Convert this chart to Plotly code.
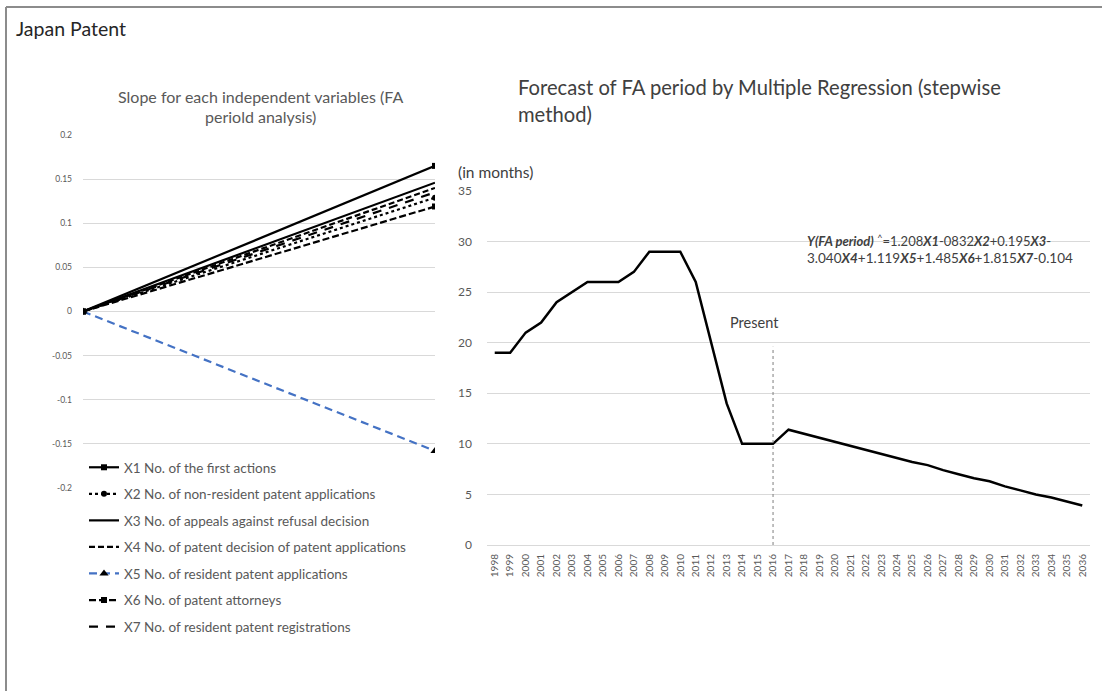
import plotly.graph_objects as go

W, H = 1102, 691

# ---------------- data ----------------
slope_points = [0, 1]
slope_names = [
    "X1 No. of the first actions",
    "X2 No. of non-resident patent applications",
    "X3 No. of appeals against refusal decision",
    "X4 No. of patent decision of patent applications",
    "X5 No. of resident patent applications",
    "X6 No. of patent attorneys",
    "X7 No. of resident patent registrations",
]
slope_end = [0.165, 0.129, 0.146, 0.140, -0.158, 0.119, 0.135]
slope_ticks = [0.2, 0.15, 0.1, 0.05, 0, -0.05, -0.1, -0.15, -0.2]
slope_ticklabels = ["0.2", "0.15", "0.1", "0.05", "0", "-0.05", "-0.1", "-0.15", "-0.2"]

years = [str(y) for y in range(1998, 2037)]
fa_period = [19, 19, 21, 22, 24, 25, 26, 26, 26, 27, 29, 29, 29, 26, 20, 14, 10, 10, 10,
             11.4, 11.0, 10.6, 10.2, 9.8, 9.4, 9.0, 8.6, 8.2, 7.9, 7.4, 7.0, 6.6, 6.3,
             5.8, 5.4, 5.0, 4.7, 4.3, 3.9]
present_year = "2016"
present_top = 19.6
fa_ticks = [0, 5, 10, 15, 20, 25, 30, 35]

# ---------------- styles ----------------
BLUE = "#4472c4"
styles = [
    dict(color="black", dash="solid", symbol="square", msize=6, mcolor="black"),
    dict(color="black", dash="dot", symbol="circle", msize=6, mcolor="black"),
    dict(color="black", dash="solid", symbol=None, msize=0, mcolor="black"),
    dict(color="black", dash="6px,3px", symbol=None, msize=0, mcolor="black"),
    dict(color=BLUE, dash="8px,5px", symbol="triangle-up", msize=8, mcolor="black"),
    dict(color="black", dash="7px,3px", symbol="square", msize=6, mcolor="black"),
    dict(color="black", dash="9px,8px", symbol=None, msize=0, mcolor="black"),
]

FONT = "Lato, 'Open Sans', sans-serif"
GRAY = "#595959"
DARK = "#404040"

def px_x(p):
    return p / W

def px_y(p):
    return 1 - p / H

fig = go.Figure()

for i, (name, end) in enumerate(zip(slope_names, slope_end)):
    s = styles[i]
    mode = "lines+markers" if s["symbol"] else "lines"
    fig.add_trace(go.Scatter(
        x=slope_points, y=[0, end], name=name, mode=mode,
        line=dict(color=s["color"], width=2.2, dash=s["dash"]),
        marker=dict(symbol=s["symbol"] or "circle", size=s["msize"], color=s["mcolor"]),
        xaxis="x", yaxis="y", legendgroup=f"g{i}", hoverinfo="skip",
    ))

fig.add_trace(go.Scatter(
    x=years, y=fa_period, mode="lines", showlegend=False,
    line=dict(color="black", width=2.5), xaxis="x2", yaxis="y2", hoverinfo="skip",
))

fig.update_layout(
    width=W, height=H, margin=dict(l=0, r=0, t=0, b=0, autoexpand=False),
    autosize=False,
    paper_bgcolor="white", plot_bgcolor="white",
    font=dict(family=FONT, color=GRAY),
    xaxis=dict(domain=[px_x(83), px_x(435)], range=[0, 1], showgrid=False, zeroline=False,
               showticklabels=False, ticks="", anchor="y", automargin=False),
    yaxis=dict(domain=[px_y(488), px_y(135)], range=[-0.2, 0.2], tickvals=slope_ticks,
               ticktext=slope_ticklabels, showgrid=True, gridcolor="#d9d9d9", gridwidth=1,
               zeroline=False, tickfont=dict(size=8.5, color=GRAY), ticks="",
               ticklabelstandoff=10, anchor="x", automargin=False),
    xaxis2=dict(domain=[px_x(487), px_x(1090)], type="category", range=[-0.5, len(years) - 0.5],
                tickangle=-90, tickfont=dict(size=10, color=GRAY), showgrid=False,
                zeroline=False, showline=True, linecolor="#d9d9d9", ticks="",
                ticklabelstandoff=4, anchor="y2", automargin=False),
    yaxis2=dict(domain=[px_y(545), px_y(191)], range=[0, 35], tickvals=fa_ticks,
                showgrid=True, gridcolor="#d9d9d9", gridwidth=1, zeroline=False,
                tickfont=dict(size=12, color=GRAY), ticks="", ticklabelstandoff=14,
                anchor="x2", automargin=False),
    legend=dict(x=px_x(84), y=px_y(452), xanchor="left", yanchor="top",
                font=dict(size=13.5, color=GRAY), tracegroupgap=6, itemwidth=30,
                bgcolor="rgba(0,0,0,0)", traceorder="grouped"),
    showlegend=True,
)

present_idx = years.index(present_year)

# Present marker line
fig.add_shape(type="line", xref="x2", yref="y2", x0=present_idx, x1=present_idx,
              y0=0, y1=present_top, line=dict(color="#7f7f7f", width=1, dash="dot"))

ann = []
ann.append(dict(text="Japan Patent", x=px_x(14), y=px_y(28), xref="paper", yref="paper",
                xanchor="left", yanchor="middle", showarrow=False,
                font=dict(size=19.5, color="#262626")))
ann.append(dict(text="Slope for each independent variables (FA", x=px_x(260), y=px_y(97),
                xref="paper", yref="paper", xanchor="center", yanchor="middle",
                showarrow=False, font=dict(size=16, color=GRAY)))
ann.append(dict(text="periold analysis)", x=px_x(260), y=px_y(117),
                xref="paper", yref="paper", xanchor="center", yanchor="middle",
                showarrow=False, font=dict(size=16, color=GRAY)))
ann.append(dict(text="Forecast of FA period by Multiple Regression (stepwise", x=px_x(516),
                y=px_y(87), xref="paper", yref="paper", xanchor="left", yanchor="middle",
                showarrow=False, font=dict(size=20.2, color=DARK)))
ann.append(dict(text="method)", x=px_x(516), y=px_y(114), xref="paper", yref="paper",
                xanchor="left", yanchor="middle", showarrow=False,
                font=dict(size=20.2, color=DARK)))
ann.append(dict(text="(in months)", x=px_x(456), y=px_y(172), xref="paper", yref="paper",
                xanchor="left", yanchor="middle", showarrow=False,
                font=dict(size=15.5, color=DARK)))
ann.append(dict(text="<b><i>Y(FA period)</i></b> <sup>^</sup>=1.208<b><i>X1</i></b>-0832<b><i>X2</i></b>+0.195<b><i>X3</i></b>-",
                x=px_x(805), y=px_y(240), xref="paper", yref="paper", xanchor="left",
                yanchor="middle", showarrow=False, font=dict(size=13, color=DARK)))
ann.append(dict(text="3.040<b><i>X4</i></b>+1.119<b><i>X5</i></b>+1.485<b><i>X6</i></b>+1.815<b><i>X7</i></b>-0.104",
                x=px_x(805), y=px_y(258), xref="paper", yref="paper", xanchor="left",
                yanchor="middle", showarrow=False, font=dict(size=13.5, color=DARK)))
ann.append(dict(text="Present", x=present_idx, y=22, xref="x2", yref="y2", xshift=-19,
                xanchor="center", yanchor="middle", showarrow=False,
                font=dict(size=14.5, color=DARK)))
fig.update_layout(annotations=ann)

# outer frame (left and top edges visible)
fig.add_shape(type="line", xref="paper", yref="paper", x0=px_x(6), x1=px_x(6), y0=0, y1=px_y(7),
              line=dict(color="#8c8c8c", width=2))
fig.add_shape(type="line", xref="paper", yref="paper", x0=px_x(6), x1=1, y0=px_y(7), y1=px_y(7),
              line=dict(color="#8c8c8c", width=2))

fig.write_html("out.html", config={"responsive": False, "displayModeBar": False},
               post_script="document.body.style.margin='0';document.body.style.padding='0';")
